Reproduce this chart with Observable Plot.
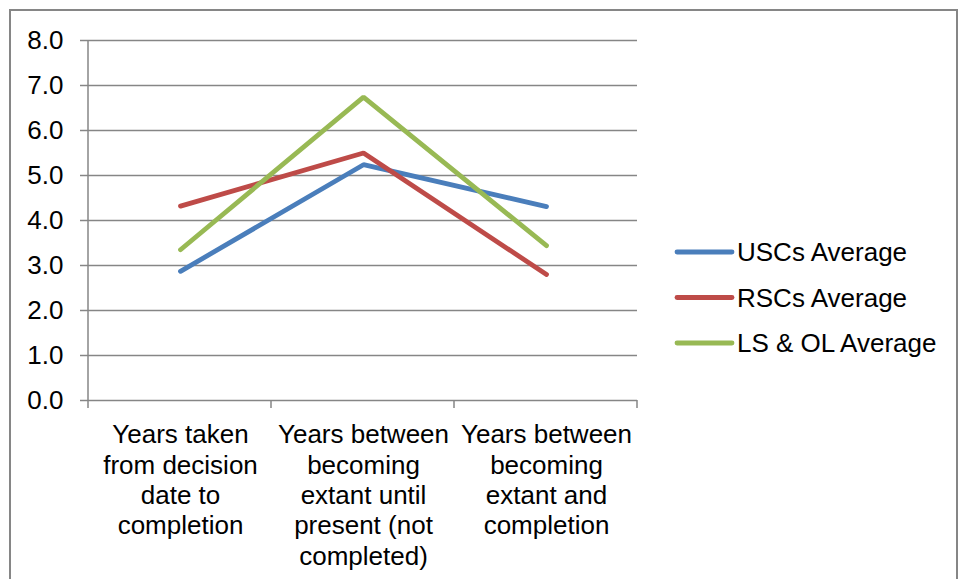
<!DOCTYPE html>
<html><head><meta charset="utf-8">
<script src="https://cdn.jsdelivr.net/npm/d3@7"></script>
<script src="https://cdn.jsdelivr.net/npm/@observablehq/plot@0.6"></script>
<style>
body{margin:0;background:#fff}
svg{display:block}
g[aria-label^="y-axis"] line, g[aria-label^="y-axis"] path {stroke:#868686;stroke-width:1.5px}
</style>
</head><body><div id="chart"></div>
<script>
const categories = [
  "Years taken\nfrom decision\ndate to\ncompletion",
  "Years between\nbecoming\nextant until\npresent (not\ncompleted)",
  "Years between\nbecoming\nextant and\ncompletion"
];
const seriesNames = ["USCs Average", "RSCs Average", "LS & OL Average"];
const uscs = [2.87, 5.24, 4.31];
const rscs = [4.32, 5.50, 2.80];
const lsol = [3.35, 6.74, 3.44];
const yTicks = [0, 1, 2, 3, 4, 5, 6, 7, 8];
const colors = ["#4a7ebb", "#be4b48", "#98b954"];

const seriesValues = [uscs, rscs, lsol];
const rows = [];
seriesNames.forEach((s, i) => categories.forEach((c, j) => rows.push({series: s, cat: c, value: seriesValues[i][j]})));

const FONT = "'Liberation Sans', Arial, sans-serif";
const GRAY = "#868686";

const chart = Plot.plot({
  width: 960, height: 579,
  marginTop: 40, marginBottom: 179, marginLeft: 88, marginRight: 323,
  style: {fontFamily: FONT, fontSize: "26px", color: "#000", background: "transparent"},
  x: {type: "point", domain: categories, padding: 0.5, axis: null},
  y: {domain: [0, 8], ticks: yTicks, tickSize: 8, tickPadding: 17, tickFormat: d => d.toFixed(1), label: null},
  color: {domain: seriesNames, range: colors},
  marks: [
    Plot.ruleY(yTicks, {stroke: GRAY, strokeWidth: 1.5}),
    Plot.text(categories, {x: d => d, text: d => d, frameAnchor: "bottom", lineAnchor: "top", dy: 21, lineHeight: 1.17, fill: "#000"}),
    Plot.line(rows, {x: "cat", y: "value", z: "series", stroke: "series", strokeWidth: 4.8, strokeLinecap: "round", strokeLinejoin: "miter"})
  ]
});
document.getElementById("chart").appendChild(chart);

const svg = d3.select(chart);
const xs = chart.scale("x"), ys = chart.scale("y");
const xp = d3.scalePoint().domain(xs.domain).range(xs.range).padding(xs.padding ?? 0.5).align(xs.align ?? 0.5);
const yl = d3.scaleLinear().domain(ys.domain).range(ys.range);
const step = xp.step();
const g = svg.append("g");
// left axis line
g.append("line").attr("x1", xs.range[0]).attr("x2", xs.range[0]).attr("y1", yl(8)).attr("y2", yl(0))
  .attr("stroke", GRAY).attr("stroke-width", 1.5);
// x boundary ticks
const bounds = categories.map(c => xp(c) - step / 2).concat([xp(categories[categories.length - 1]) + step / 2]);
bounds.forEach(b => g.append("line").attr("x1", b).attr("x2", b).attr("y1", yl(0)).attr("y2", yl(0) + 8)
  .attr("stroke", GRAY).attr("stroke-width", 1.5));
// outer border
g.append("rect").attr("x", 10).attr("y", 10).attr("width", 947).attr("height", 620)
  .attr("fill", "none").attr("stroke", GRAY).attr("stroke-width", 2);
// legend
const leg = g.append("g").attr("transform", "translate(677,252)");
seriesNames.forEach((s, i) => {
  const row = leg.append("g").attr("transform", `translate(0,${i * 45.5})`);
  row.append("line").attr("x1", 0).attr("x2", 55).attr("y1", 0).attr("y2", 0)
    .attr("stroke", colors[i]).attr("stroke-width", 4.8).attr("stroke-linecap", "round");
  row.append("text").attr("x", 60).attr("y", 0).attr("dy", "0.35em").attr("text-anchor", "start")
    .attr("font-family", FONT).attr("font-size", 26).attr("fill", "#000").text(s);
});
</script>
</body></html>
